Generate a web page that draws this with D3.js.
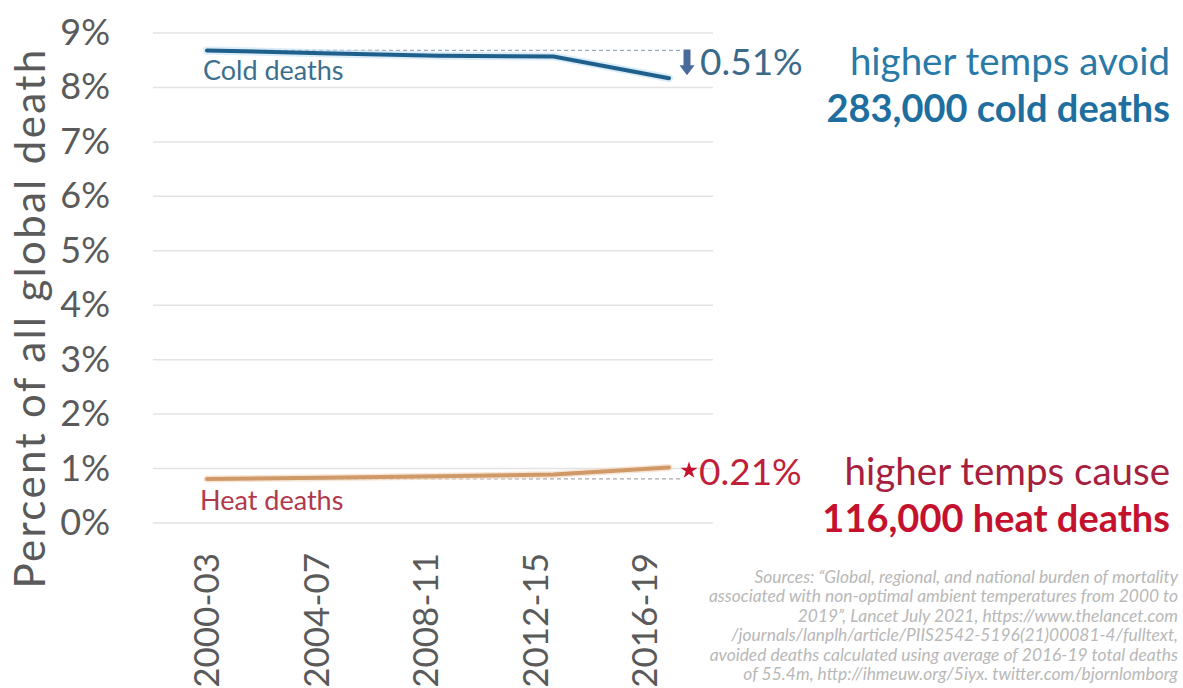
<!DOCTYPE html>
<html>
<head>
<meta charset="utf-8">
<script src="https://cdn.jsdelivr.net/npm/d3@7"></script>
<style>
  body { margin: 0; background: #fff; }
  text { font-family: Lato, "Open Sans", sans-serif; }
</style>
</head>
<body>
<div id="chart"></div>
<script>
// data
const periods = ["2000-03", "2004-07", "2008-11", "2012-15", "2016-19"];
const coldDeaths = [8.68, 8.63, 8.58, 8.57, 8.17];
const heatDeaths = [0.81, 0.83, 0.86, 0.89, 1.02];
const yTicks = [0, 1, 2, 3, 4, 5, 6, 7, 8, 9];
const sourceLines = [
  "Sources: \u201cGlobal, regional, and national burden of mortality",
  "associated with non-optimal ambient temperatures from 2000 to",
  "2019\u201d, Lancet July 2021, https://www.thelancet.com",
  "/journals/lanplh/article/PIIS2542-5196(21)00081-4/fulltext,",
  "avoided deaths calculated using average of 2016-19 total deaths",
  "of 55.4m, http://ihmeuw.org/5iyx. twitter.com/bjornlomborg"
];

const W = 1183, H = 688;
const svg = d3.select("#chart").append("svg")
    .attr("width", W).attr("height", H);

const x = d3.scalePoint().domain(periods).range([207, 669]);
// tick labels sit a bit left of the points in the photo
const xLab = d3.scalePoint().domain(periods).range([207, 645]);
const y = d3.scaleLinear().domain([0, 9]).range([523, 33]);

// gridlines
svg.append("g").selectAll("line")
  .data(yTicks).enter().append("line")
    .attr("x1", 153).attr("x2", 713)
    .attr("y1", d => y(d)).attr("y2", d => y(d))
    .style("stroke", "#e3e3e3").style("stroke-width", 1.5);

// y tick labels
svg.append("g").selectAll("text")
  .data(yTicks).enter().append("text")
    .attr("x", 110).attr("y", d => y(d) + 12)
    .attr("text-anchor", "end")
    .style("font-size", "36px").style("fill", "#5a5a5a")
    .text(d => d + "%");

// y title
svg.append("text")
  .attr("transform", "translate(45,318) rotate(-90)")
  .attr("text-anchor", "middle")
  .style("font-size", "42px").style("letter-spacing", "2.4px").style("fill", "#5a5a5a")
  .text("Percent of all global death");

// x labels, rotated
svg.append("g").selectAll("text")
  .data(periods).enter().append("text")
    .attr("transform", d => "translate(" + (xLab(d) + 12) + ",553) rotate(-90)")
    .attr("text-anchor", "end")
    .style("font-size", "35px").style("fill", "#5a5a5a")
    .text(d => d);

// dashed baselines at first value
svg.append("line")
  .attr("x1", x(periods[0])).attr("x2", 680)
  .attr("y1", y(coldDeaths[0])).attr("y2", y(coldDeaths[0]))
  .style("stroke", "#9aaabb").style("stroke-width", 1.2).style("stroke-dasharray", "4,3");
svg.append("line")
  .attr("x1", x(periods[0])).attr("x2", 682)
  .attr("y1", y(heatDeaths[0])).attr("y2", y(heatDeaths[0]))
  .style("stroke", "#a8a8a8").style("stroke-width", 1.2).style("stroke-dasharray", "4,3");

const line = d3.line().x((d, i) => x(periods[i])).y(d => y(d));

svg.append("path").datum(coldDeaths)
  .attr("d", line)
  .style("fill", "none").style("stroke", "#bfe0f2").style("stroke-width", 8)
  .style("stroke-linecap", "round").style("opacity", 0.6);
svg.append("path").datum(coldDeaths)
  .attr("d", line)
  .style("fill", "none").style("stroke", "#1f5f8c").style("stroke-width", 4)
  .style("stroke-linecap", "round");

svg.append("path").datum(heatDeaths)
  .attr("d", line)
  .style("fill", "none").style("stroke", "#f3dcc6").style("stroke-width", 7)
  .style("stroke-linecap", "round").style("opacity", 0.7);
svg.append("path").datum(heatDeaths)
  .attr("d", line)
  .style("fill", "none").style("stroke", "#cf9a68").style("stroke-width", 4)
  .style("stroke-linecap", "round");

// series labels
svg.append("text")
  .attr("x", 203).attr("y", 80)
  .style("font-size", "27px").style("fill", "#3c6f8c")
  .text("Cold deaths");
svg.append("text")
  .attr("x", 200).attr("y", 510)
  .style("font-size", "27px").style("fill", "#b03a4c")
  .text("Heat deaths");

// down arrow for the cold drop
const ax = 687, ay0 = y(coldDeaths[0]) - 1, ay1 = y(coldDeaths[coldDeaths.length - 1]) - 3;
svg.append("path")
  .attr("d", "M" + (ax - 3.5) + "," + ay0 + "H" + (ax + 3.5) + "V" + (ay1 - 10) +
             "H" + (ax + 7.5) + "L" + ax + "," + ay1 + "L" + (ax - 7.5) + "," + (ay1 - 10) +
             "H" + (ax - 3.5) + "Z")
  .style("fill", "#4a6a9c");

// star for the heat rise
svg.append("path")
  .attr("d", d3.symbol().type(d3.symbolStar).size(90))
  .attr("transform", "translate(" + 689 + "," + (y(heatDeaths[heatDeaths.length - 1]) + 3) + ")")
  .style("fill", "#c8102e");

// change labels
const coldDiff = coldDeaths[0] - coldDeaths[coldDeaths.length - 1];
const heatDiff = heatDeaths[heatDeaths.length - 1] - heatDeaths[0];
svg.append("text")
  .attr("x", 700).attr("y", 75)
  .style("font-size", "37px").style("fill", "#3a6a88")
  .text(coldDiff.toFixed(2) + "%");
svg.append("text")
  .attr("x", 699).attr("y", 485)
  .style("font-size", "37px").style("fill", "#c01f3a")
  .text(heatDiff.toFixed(2) + "%");

// right-side annotations
svg.append("text")
  .attr("x", 1170).attr("y", 75).attr("text-anchor", "end")
  .style("font-size", "38.5px").style("fill", "#2a7aa8")
  .text("higher temps avoid");
svg.append("text")
  .attr("x", 1170).attr("y", 122).attr("text-anchor", "end")
  .style("font-size", "38px").style("font-weight", "bold").style("fill", "#1e6f9f")
  .text("283,000 cold deaths");
svg.append("text")
  .attr("x", 1170).attr("y", 485).attr("text-anchor", "end")
  .style("font-size", "38.5px").style("fill", "#a6203e")
  .text("higher temps cause");
svg.append("text")
  .attr("x", 1170).attr("y", 532).attr("text-anchor", "end")
  .style("font-size", "38px").style("font-weight", "bold").style("fill", "#c4122e")
  .text("116,000 heat deaths");

// sources
svg.append("g").selectAll("text")
  .data(sourceLines).enter().append("text")
    .attr("x", 1178).attr("y", (d, i) => 583 + i * 19.4)
    .attr("text-anchor", "end")
    .style("font-size", "17.4px").style("font-style", "italic").style("fill", "#b8b8b8")
    .text(d => d);
</script>
</body>
</html>
